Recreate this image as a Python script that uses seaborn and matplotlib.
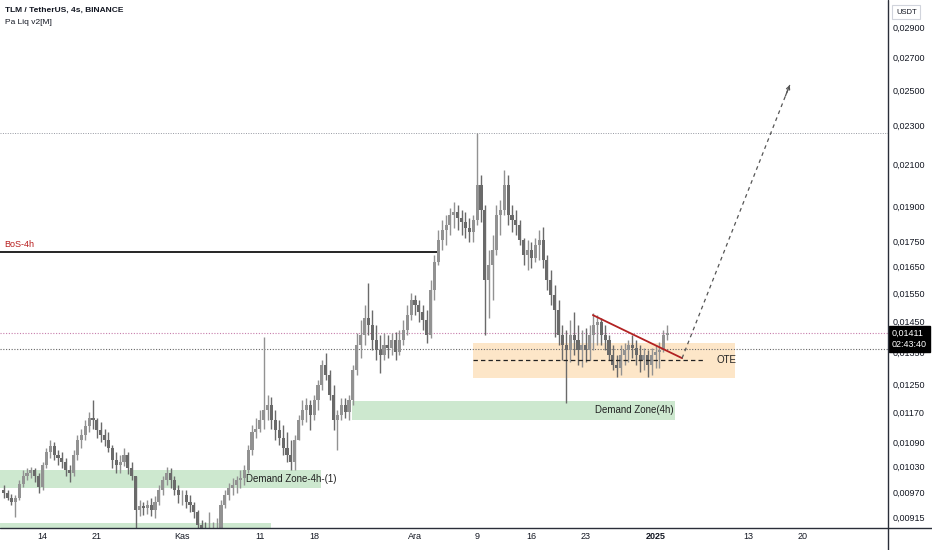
import numpy as np
import pandas as pd
import matplotlib
matplotlib.use('Agg')
import matplotlib.pyplot as plt
import matplotlib.dates as mdates
from matplotlib.ticker import NullLocator
import seaborn as sns

# 12h candles starting 2024-10-09 00:00
start = '2024-10-09'
first_open = 0.00975
highs = [
    0.00986, 0.00974, 0.00967, 0.00963, 0.00998, 0.01021, 0.01026, 0.01029, 0.01026, 0.01016,
    0.01041, 0.01076, 0.01096, 0.01091, 0.01071, 0.01066, 0.01051, 0.01034, 0.01071, 0.01109,
    0.01127, 0.01149, 0.01171, 0.01205, 0.01155, 0.01144, 0.01127, 0.01117, 0.01083, 0.01066,
    0.01058, 0.01076, 0.01066, 0.01041, 0.01009, 0.00952, 0.00948, 0.00952, 0.00956, 0.00961,
    0.00986, 0.01009, 0.01029, 0.01026, 0.01009, 0.00986, 0.00974, 0.00974, 0.00963, 0.00948,
    0.00930, 0.00908, 0.00904, 0.00925, 0.00904, 0.00912, 0.00952, 0.00974, 0.00991, 0.01002,
    0.01009, 0.01021, 0.01034, 0.01083, 0.01136, 0.01155, 0.01177, 0.01397, 0.01219, 0.01213,
    0.01177, 0.01149, 0.01136, 0.01117, 0.01096, 0.01109, 0.01163, 0.01205, 0.01210, 0.01205,
    0.01219, 0.01263, 0.01324, 0.01346, 0.01293, 0.01248, 0.01177, 0.01210, 0.01210, 0.01219,
    0.01309, 0.01411, 0.01455, 0.01507, 0.01586, 0.01489, 0.01438, 0.01404, 0.01411, 0.01404,
    0.01411, 0.01414, 0.01421, 0.01455, 0.01507, 0.01550, 0.01543, 0.01525, 0.01507, 0.01489,
    0.01598, 0.01695, 0.01798, 0.01841, 0.01863, 0.01894, 0.01921, 0.01907, 0.01885, 0.01876,
    0.01850, 0.01863, 0.02260, 0.02047, 0.01907, 0.01715, 0.01777, 0.01907, 0.01930, 0.02071,
    0.02047, 0.01907, 0.01885, 0.01841, 0.01765, 0.01756, 0.01748, 0.01765, 0.01798, 0.01810,
    0.01695, 0.01636, 0.01579, 0.01525, 0.01438, 0.01421, 0.01455, 0.01482, 0.01438, 0.01421,
    0.01428, 0.01438, 0.01479, 0.01472, 0.01462, 0.01438, 0.01404, 0.01372, 0.01339, 0.01372,
    0.01378, 0.01388, 0.01404, 0.01388, 0.01372, 0.01362, 0.01355, 0.01362, 0.01372, 0.01382,
    0.01421, 0.01438,
]
lows = [
    0.00958, 0.00952, 0.00941, 0.00915, 0.00952, 0.00981, 0.00998, 0.01002, 0.00993, 0.00969,
    0.00974, 0.01026, 0.01051, 0.01046, 0.01034, 0.01026, 0.01009, 0.00993, 0.01007, 0.01046,
    0.01076, 0.01096, 0.01117, 0.01127, 0.01101, 0.01091, 0.01081, 0.01066, 0.01026, 0.01016,
    0.01016, 0.01031, 0.01012, 0.00998, 0.00887, 0.00917, 0.00919, 0.00921, 0.00917, 0.00912,
    0.00941, 0.00963, 0.00986, 0.00979, 0.00963, 0.00945, 0.00941, 0.00934, 0.00925, 0.00912,
    0.00887, 0.00883, 0.00878, 0.00878, 0.00876, 0.00878, 0.00887, 0.00934, 0.00952, 0.00963,
    0.00969, 0.00979, 0.00986, 0.01016, 0.01058, 0.01101, 0.01117, 0.01127, 0.01149, 0.01127,
    0.01096, 0.01083, 0.01058, 0.01041, 0.01021, 0.01021, 0.01096, 0.01136, 0.01144, 0.01122,
    0.01149, 0.01177, 0.01233, 0.01263, 0.01205, 0.01122, 0.01071, 0.01149, 0.01155, 0.01149,
    0.01191, 0.01278, 0.01330, 0.01372, 0.01404, 0.01355, 0.01324, 0.01284, 0.01324, 0.01330,
    0.01339, 0.01324, 0.01339, 0.01372, 0.01404, 0.01455, 0.01472, 0.01448, 0.01421, 0.01378,
    0.01394, 0.01525, 0.01655, 0.01715, 0.01736, 0.01777, 0.01806, 0.01798, 0.01777, 0.01765,
    0.01748, 0.01748, 0.01819, 0.01832, 0.01404, 0.01462, 0.01525, 0.01695, 0.01777, 0.01863,
    0.01819, 0.01790, 0.01777, 0.01736, 0.01655, 0.01636, 0.01644, 0.01667, 0.01675, 0.01644,
    0.01561, 0.01507, 0.01397, 0.01372, 0.01324, 0.01196, 0.01318, 0.01339, 0.01309, 0.01302,
    0.01318, 0.01324, 0.01355, 0.01372, 0.01372, 0.01355, 0.01324, 0.01293, 0.01272, 0.01278,
    0.01309, 0.01318, 0.01330, 0.01309, 0.01287, 0.01293, 0.01272, 0.01278, 0.01299, 0.01299,
    0.01349, 0.01388,
]
closes = [
    0.00969, 0.00958, 0.00948, 0.00956, 0.00988, 0.01007, 0.01016, 0.01021, 0.01007, 0.00983,
    0.01034, 0.01066, 0.01081, 0.01058, 0.01051, 0.01041, 0.01021, 0.01016, 0.01058, 0.01096,
    0.01109, 0.01133, 0.01155, 0.01149, 0.01122, 0.01109, 0.01096, 0.01076, 0.01046, 0.01034,
    0.01041, 0.01058, 0.01026, 0.01009, 0.00930, 0.00939, 0.00934, 0.00941, 0.00930, 0.00948,
    0.00974, 0.00998, 0.01016, 0.00998, 0.00974, 0.00963, 0.00963, 0.00948, 0.00941, 0.00925,
    0.00897, 0.00891, 0.00887, 0.00887, 0.00887, 0.00891, 0.00941, 0.00963, 0.00979, 0.00986,
    0.00998, 0.01002, 0.01021, 0.01071, 0.01117, 0.01127, 0.01149, 0.01177, 0.01191, 0.01149,
    0.01122, 0.01101, 0.01076, 0.01058, 0.01041, 0.01096, 0.01149, 0.01177, 0.01191, 0.01163,
    0.01205, 0.01248, 0.01309, 0.01278, 0.01219, 0.01149, 0.01163, 0.01191, 0.01171, 0.01205,
    0.01293, 0.01372, 0.01404, 0.01462, 0.01438, 0.01388, 0.01355, 0.01339, 0.01372, 0.01362,
    0.01388, 0.01349, 0.01388, 0.01421, 0.01472, 0.01525, 0.01507, 0.01482, 0.01455, 0.01404,
    0.01561, 0.01667, 0.01756, 0.01798, 0.01819, 0.01863, 0.01876, 0.01850, 0.01832, 0.01806,
    0.01790, 0.01841, 0.01999, 0.01885, 0.01598, 0.01655, 0.01715, 0.01863, 0.01885, 0.01999,
    0.01863, 0.01841, 0.01819, 0.01756, 0.01695, 0.01715, 0.01683, 0.01736, 0.01756, 0.01675,
    0.01598, 0.01543, 0.01489, 0.01404, 0.01372, 0.01355, 0.01404, 0.01388, 0.01355, 0.01372,
    0.01355, 0.01404, 0.01438, 0.01448, 0.01404, 0.01388, 0.01339, 0.01309, 0.01299, 0.01339,
    0.01355, 0.01372, 0.01362, 0.01339, 0.01324, 0.01339, 0.01309, 0.01339, 0.01349, 0.01355,
    0.01404, 0.01411,
]

# drawn levels / zones
bos_level = 0.01707
peak_level = 0.02260
last_price = 0.01411
mid_level = 0.01358
ote_zone = (0.01269, 0.01378)
ote_level = 0.01324
dz1_zone = (0.00980, 0.01022)
dz0_zone = (0.00850, 0.00903)
dz4_zone = (0.01149, 0.01202)
trend_prices = [0.01472, 0.01330]
proj_prices = [0.01330, 0.02530]

x_labels = ['14', '21', 'Kas', '11', '18', 'Ara', '9', '16', '23', '2025', '13', '20']
x_label_dates = ['2024-10-14', '2024-10-21', '2024-11-01', '2024-11-11', '2024-11-18',
                 '2024-12-01', '2024-12-09', '2024-12-16', '2024-12-23', '2025-01-01',
                 '2025-01-13', '2025-01-20']
y_ticks = [0.029, 0.027, 0.025, 0.023, 0.021, 0.019, 0.0175, 0.0165, 0.0155, 0.0145,
           0.0135, 0.0125, 0.0117, 0.0109, 0.0103, 0.0097, 0.00915]


def d(s):
    return mdates.date2num(pd.Timestamp(s))


sns.set_theme(style='white')
plt.rcParams['font.family'] = ['Liberation Sans', 'DejaVu Sans']
txt = '#131722'

fig = plt.figure(figsize=(9.32, 5.5), dpi=100)
ax = fig.add_axes([0, 22 / 550, 888 / 932, 528 / 550])
ax.set_yscale('log')
ax.set_xlim(d('2024-10-08 12:30'), d('2025-01-30 22:48'))
ax.set_ylim(0.008917, 0.030904)

# zones
ax.fill_between([d('2024-10-08'), d('2024-11-18 22:00')], *dz1_zone, color='#cde8cf', lw=0, zorder=1)
ax.fill_between([d('2024-10-08'), d('2024-11-12 10:00')], *dz0_zone, color='#cde8cf', lw=0, zorder=1)
ax.fill_between([d('2024-11-22 22:00'), d('2025-01-03 12:00')], *dz4_zone, color='#cde8cf', lw=0, zorder=1)
ax.fill_between([d('2024-12-08 12:00'), d('2025-01-11 05:00')], *ote_zone, color='#fde6c8', lw=0, zorder=1)

# horizontal levels across the chart
ax.axhline(peak_level, color='#9598a1', ls=(0, (1, 1.5)), lw=0.7, zorder=2)
ax.axhline(last_price, color='#c77dab', ls=(0, (1, 1.5)), lw=0.8, zorder=2)
ax.axhline(mid_level, color='#666666', ls=(0, (1, 1.5)), lw=0.8, zorder=2)
ax.hlines(bos_level, d('2024-10-08'), d('2024-12-03 19:00'), color='black', lw=1.2, zorder=2)
ax.hlines(ote_level, d('2024-12-08 12:00'), d('2025-01-07 10:00'), color='#222222',
          ls=(0, (3.5, 2.5)), lw=0.9, zorder=4)

# candles
t = mdates.date2num(pd.date_range(start, periods=len(closes), freq='12h'))
c = np.array(closes)
o = np.r_[first_open, c[:-1]]
hi = np.maximum(np.array(highs), np.maximum(o, c))
lo = np.minimum(np.array(lows), np.minimum(o, c))
col = np.where(c >= o, '#929292', '#6a6a6a')
ax.vlines(t, lo, hi, colors=col, lw=1.0, zorder=3)
ax.bar(t, np.abs(c - o), bottom=np.minimum(o, c), width=0.4, color=col, lw=0, zorder=3)

# trend line and projection
trend_x = [d('2024-12-23 22:00'), d('2025-01-04 10:00')]
sns.lineplot(x=trend_x, y=trend_prices, ax=ax, color='#b22222', lw=1.3, zorder=5)
proj_x = [d('2025-01-04 10:00'), d('2025-01-18 07:00')]
sns.lineplot(x=proj_x, y=proj_prices, ax=ax, color='#555555', lw=0.9, ls=(0, (3, 3)), zorder=5)
f = 0.96
tail = (proj_x[0] + f * (proj_x[1] - proj_x[0]),
        np.exp(np.log(proj_prices[0]) + f * (np.log(proj_prices[1]) - np.log(proj_prices[0]))))
ax.annotate('', xy=(proj_x[1], proj_prices[1]), xytext=tail,
            arrowprops=dict(arrowstyle='->', color='#555555', lw=0.9, shrinkA=0, shrinkB=0,
                            mutation_scale=6), zorder=5)

# labels on chart
ax.text(d('2024-10-09 02:00'), 0.01736, 'BoS-4h', color='#b71c1c', fontsize=6.5, va='center', zorder=6)
ax.text(d('2024-11-09 04:00'), 0.01000, 'Demand Zone-4h-(1)', color='#222222', fontsize=7, va='center', zorder=6)
ax.text(d('2025-01-03 08:00'), 0.01176, 'Demand Zone(4h)', color='#222222', fontsize=7, va='center',
        ha='right', zorder=6)
ax.text(d('2025-01-08 20:00'), ote_level, 'OTE', color='#222222', fontsize=7, va='center', zorder=6)

# axes styling
ax.yaxis.tick_right()
ax.set_yticks(y_ticks)
ax.set_yticklabels([f'{v:.5f}'.replace('.', ',') for v in y_ticks])
ax.yaxis.set_minor_locator(NullLocator())
ax.set_xticks([d(s) for s in x_label_dates])
ax.set_xticklabels(x_labels)
ax.tick_params(axis='y', length=0, pad=3.5, labelsize=6.5, labelcolor=txt)
ax.tick_params(axis='x', length=0, pad=3, labelsize=6.5, labelcolor=txt)
for lab in ax.get_xticklabels():
    if lab.get_text() == '2025':
        lab.set_fontweight('bold')
for s in ['top', 'left', 'right', 'bottom']:
    ax.spines[s].set_visible(False)
ax.grid(False)

# frame lines of the price/time scales
fig.add_artist(plt.Line2D([888 / 932, 888 / 932], [0, 1], color='#2a2e39', lw=1))
fig.add_artist(plt.Line2D([0, 1], [22 / 550, 22 / 550], color='#2a2e39', lw=1))

# last price tag (sits just below the price line, over the 0,01350 label)
ax.annotate('0,01411\n02:43:40', xy=(1, last_price), xycoords=('axes fraction', 'data'),
            xytext=(4, -6), textcoords='offset pixels', color='white', fontsize=6.5,
            va='center', ha='left', linespacing=1.25, annotation_clip=False, zorder=10,
            bbox=dict(boxstyle='square,pad=0.35', fc='black', ec='black'))

# header texts
fig.text(5 / 932, 1 - 10 / 550, 'TLM / TetherUS, 4s, BINANCE', fontsize=6, fontweight='bold',
         color=txt, va='center')
fig.text(5 / 932, 1 - 22 / 550, 'Pa Liq v2[M]', fontsize=6, color=txt, va='center')
fig.text(896 / 932, 1 - 12 / 550, 'USDT', fontsize=5.5, color=txt, va='center',
         bbox=dict(boxstyle='square,pad=0.5', fc='white', ec='#d1d4dc', lw=0.8))

fig.savefig('out.png', dpi=100)
